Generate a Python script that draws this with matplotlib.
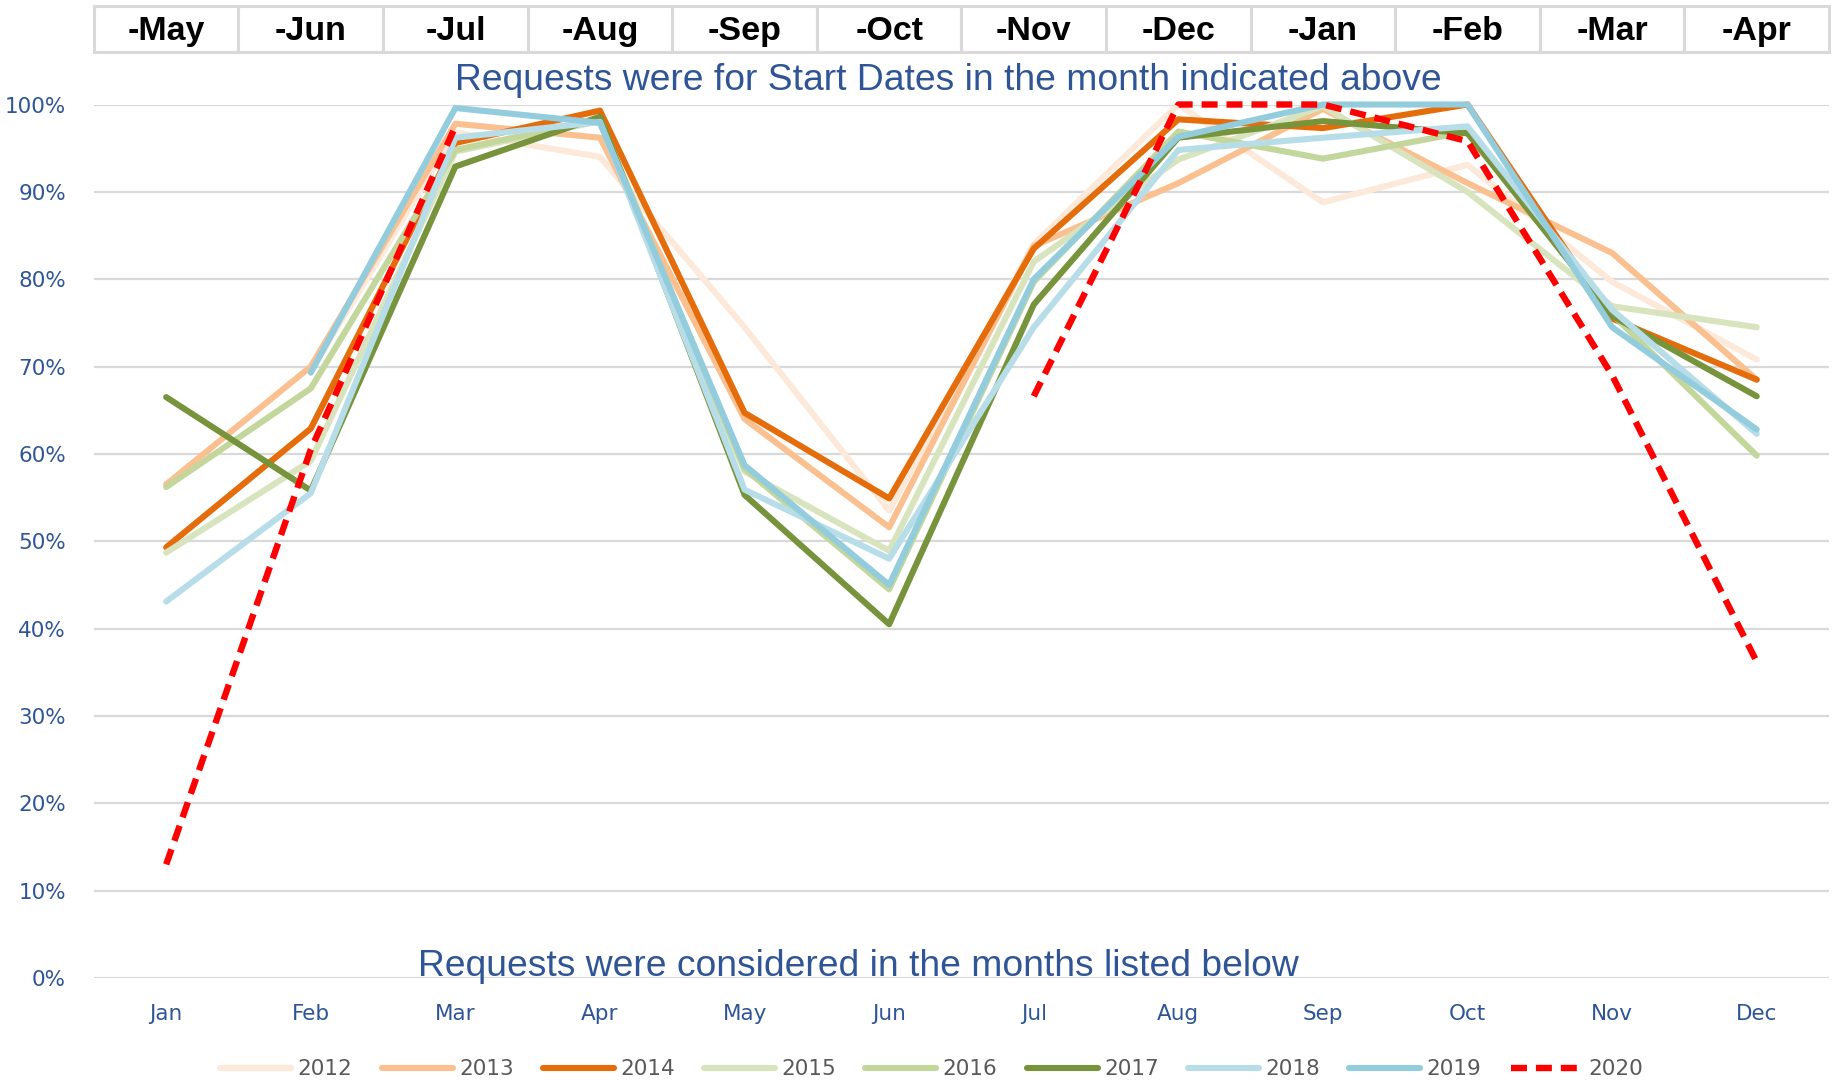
import numpy as np
import matplotlib
matplotlib.use("Agg")
import matplotlib.pyplot as plt
from matplotlib.patches import Rectangle
from matplotlib.transforms import blended_transform_factory
from matplotlib.ticker import PercentFormatter

nan = np.nan

# months in which requests were considered (x axis)
months = ['Jan', 'Feb', 'Mar', 'Apr', 'May', 'Jun',
          'Jul', 'Aug', 'Sep', 'Oct', 'Nov', 'Dec']
# start-date months shown in the header row
start_months = ['-May', '-Jun', '-Jul', '-Aug', '-Sep', '-Oct',
                '-Nov', '-Dec', '-Jan', '-Feb', '-Mar', '-Apr']

years = ['2012', '2013', '2014', '2015', '2016', '2017', '2018', '2019', '2020']

# percentage values
v2012 = [nan, 69.5, 96.8, 94.0, 74.5, 53.5, 84.0, 100.0, 88.8, 93.1, 79.7, 70.8]
v2013 = [56.5, 70.0, 97.8, 96.2, 64.0, 51.6, 83.8, 91.0, 99.5, 91.0, 83.0, 68.5]
v2014 = [49.3, 62.9, 95.6, 99.3, 64.7, 54.9, 83.5, 98.3, 97.3, 100.0, 75.5, 68.5]
v2015 = [48.7, 59.2, 94.6, 98.1, 58.0, 48.9, 82.0, 93.7, 99.8, 90.0, 76.9, 74.5]
v2016 = [56.2, 67.5, 94.8, 98.3, 58.3, 44.5, 79.7, 96.9, 93.8, 96.9, 76.0, 59.8]
v2017 = [66.5, 55.8, 92.9, 98.6, 55.3, 40.5, 77.1, 96.2, 98.1, 96.7, 75.8, 66.6]
v2018 = [43.1, 55.5, 96.2, 98.0, 55.9, 48.0, 74.5, 94.8, 96.2, 97.5, 76.5, 62.3]
v2019 = [nan, 69.3, 99.6, 97.9, 58.7, 45.0, 80.0, 96.3, 100.0, 100.0, 74.5, 62.8]
v2020 = [13.0, 60.5, 97.5, nan, nan, nan, 66.6, 100.0, 100.0, 95.8, 69.0, 36.2]

series = [v2012, v2013, v2014, v2015, v2016, v2017, v2018, v2019, v2020]
colors = ['#fde9d9', '#fac090', '#e46c0a', '#d7e4bd', '#c3d69b',
          '#77933c', '#b7dde8', '#93cddd', '#ff0000']

blue = '#2f5597'

fig = plt.figure(figsize=(18.41, 10.83), dpi=100)
ax = fig.add_axes([0.051, 0.097, 0.9425, 0.8065])

x = np.arange(len(months))
for yr, vals, c in zip(years, series, colors):
    if yr == '2020':
        ax.plot(x, vals, color=c, lw=4.6, dashes=(2.5, 1.4), label=yr,
                zorder=5, clip_on=False)
    else:
        ax.plot(x, vals, color=c, lw=4.4, label=yr, solid_capstyle='round',
                zorder=3, clip_on=False)

ax.set_xlim(-0.5, 11.5)
ax.set_ylim(0, 100)
ax.set_yticks(np.arange(0, 101, 10))
ax.yaxis.set_major_formatter(PercentFormatter(decimals=0))
ax.set_xticks(x)
ax.set_xticklabels(months)
ax.tick_params(axis='both', length=0, labelsize=15.5, labelcolor=blue)
ax.tick_params(axis='x', pad=19)
ax.tick_params(axis='y', pad=20)
ax.grid(axis='y', color='#d9d9d9', lw=1.6)
ax.set_axisbelow(True)
for s in ax.spines.values():
    s.set_visible(False)

# header row of start-date months above the plot
tr = blended_transform_factory(ax.transData, ax.transAxes)
for i, lab in enumerate(start_months):
    ax.add_patch(Rectangle((i - 0.5, 1.060), 1.0, 0.053, transform=tr,
                           facecolor='white', edgecolor='#d9d9d9', lw=2.2,
                           clip_on=False))
    ax.text(i, 1.084, lab, transform=tr, ha='center', va='center',
            fontsize=24.5, fontweight='bold',
            family=['Liberation Sans Narrow', 'Liberation Sans'])

ax.text(5.41, 1.028, 'Requests were for Start Dates in the month indicated above',
        transform=tr, ha='center', va='center', fontsize=26.8, color=blue,
        family=['Liberation Sans'])
ax.text(4.79, 0.0135, 'Requests were considered in the months listed below',
        transform=tr, ha='center', va='center', fontsize=26.8, color=blue,
        family=['Liberation Sans'])

leg = fig.legend(loc='center', bbox_to_anchor=(0.506, 0.0125), ncol=9,
                 frameon=False, fontsize=15.5, handlelength=3.3,
                 handletextpad=0.3, columnspacing=1.35)
for t in leg.get_texts():
    t.set_color('#595959')

fig.savefig('out.png', dpi=100)
